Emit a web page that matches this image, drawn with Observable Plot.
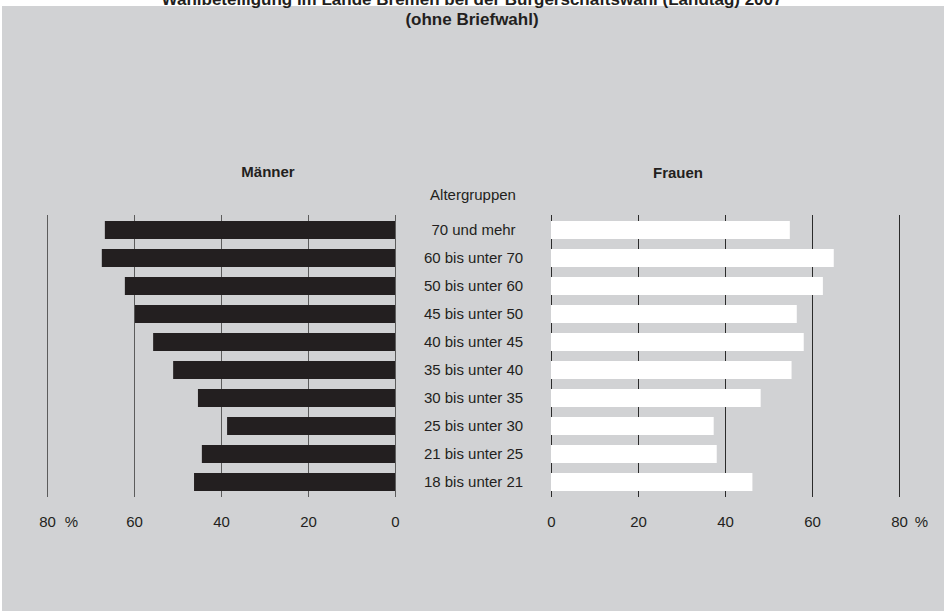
<!DOCTYPE html>
<html>
<head>
<meta charset="utf-8">
<script src="https://cdn.jsdelivr.net/npm/d3@7"></script>
<script src="https://cdn.jsdelivr.net/npm/@observablehq/plot@0.6"></script>
<style>
  html, body { margin: 0; padding: 0; background: #ffffff; overflow: hidden; }
  #wrap { position: relative; width: 944px; height: 611px; font-family: "Liberation Sans", Arial, sans-serif; color: #231f20; }
  #bg { position: absolute; left: 2px; top: 6px; right: 0; bottom: 0; background: #d1d2d4; }
  #title { position: absolute; left: 0; width: 944px; top: -10px; text-align: center; font-weight: bold; font-size: 17px; line-height: 20px; }
  .lbl { position: absolute; transform: translate(-50%, -50%); white-space: nowrap; font-size: 15px; }
  .b { font-weight: bold; }
  .plotbox { position: absolute; left: 0; top: 0; }
</style>
</head>
<body>
<div id="wrap">
  <div id="bg"></div>
  <div id="title">Wahlbeteiligung im Lande Bremen bei der Bürgerschaftswahl (Landtag) 2007<br>(ohne Briefwahl)</div>
  <div class="lbl b" style="left:268px; top:171px;">Männer</div>
  <div class="lbl b" style="left:678px; top:172px;">Frauen</div>
  <div class="lbl" style="left:473px; top:194px;">Altergruppen</div>
  <div id="left" class="plotbox"></div>
  <div id="right" class="plotbox"></div>
</div>
<script>
const ages = ["70 und mehr","60 bis unter 70","50 bis unter 60","45 bis unter 50","40 bis unter 45","35 bis unter 40","30 bis unter 35","25 bis unter 30","21 bis unter 25","18 bis unter 21"];
const maenner = [66.7, 67.4, 62.1, 59.8, 55.6, 51.0, 45.3, 38.6, 44.4, 46.2];
const frauen = [54.9, 65.0, 62.5, 56.5, 58.1, 55.3, 48.2, 37.4, 38.1, 46.3];
const ticks = [0, 20, 40, 60, 80];
const unit = "%";

const rowsM = ages.map((a, i) => ({age: a, value: maenner[i]}));
const rowsF = ages.map((a, i) => ({age: a, value: frauen[i]}));

const W = 944, H = 611;
const common = {
  width: W, height: H,
  marginTop: 215, marginBottom: 114,
  style: {background: "none", color: "#231f20", fontFamily: "Liberation Sans, Arial, sans-serif", fontSize: "15px", overflow: "visible"}
};
const yScale = {domain: ages, paddingInner: 0.36, paddingOuter: 0.18, axis: null};

const left = Plot.plot({
  ...common,
  marginLeft: 47, marginRight: 549,
  x: {domain: [0, 80], reverse: true, axis: null},
  y: yScale,
  marks: [
    Plot.ruleX(ticks, {stroke: "#5c5c5c", strokeWidth: 1}),
    Plot.barX(rowsM, {x: "value", y: "age", fill: "#231f20"}),
    Plot.axisX(ticks, {anchor: "bottom", tickSize: 0, tickPadding: 19, tickFormat: d => String(d), label: null, fontSize: 15}),
    Plot.text([80], {x: d => d, text: () => unit, frameAnchor: "bottom", dx: 24, dy: 25, lineAnchor: "middle", fontSize: 15})
  ]
});

const right = Plot.plot({
  ...common,
  marginLeft: 551, marginRight: 45,
  x: {domain: [0, 80], axis: null},
  y: yScale,
  marks: [
    Plot.ruleX(ticks, {stroke: "#2b2b2b", strokeWidth: 1}),
    Plot.barX(rowsF, {x: "value", y: "age", fill: "#ffffff"}),
    Plot.axisY(ages, {anchor: "left", tickSize: 0, tickPadding: 0, dx: -78, textAnchor: "middle", label: null, fontSize: 15}),
    Plot.axisX(ticks, {anchor: "bottom", tickSize: 0, tickPadding: 19, tickFormat: d => String(d), label: null, fontSize: 15}),
    Plot.text([80], {x: d => d, text: () => unit, frameAnchor: "bottom", dx: 22, dy: 25, lineAnchor: "middle", fontSize: 15})
  ]
});

document.getElementById("left").appendChild(left);
document.getElementById("right").appendChild(right);
</script>
</body>
</html>
